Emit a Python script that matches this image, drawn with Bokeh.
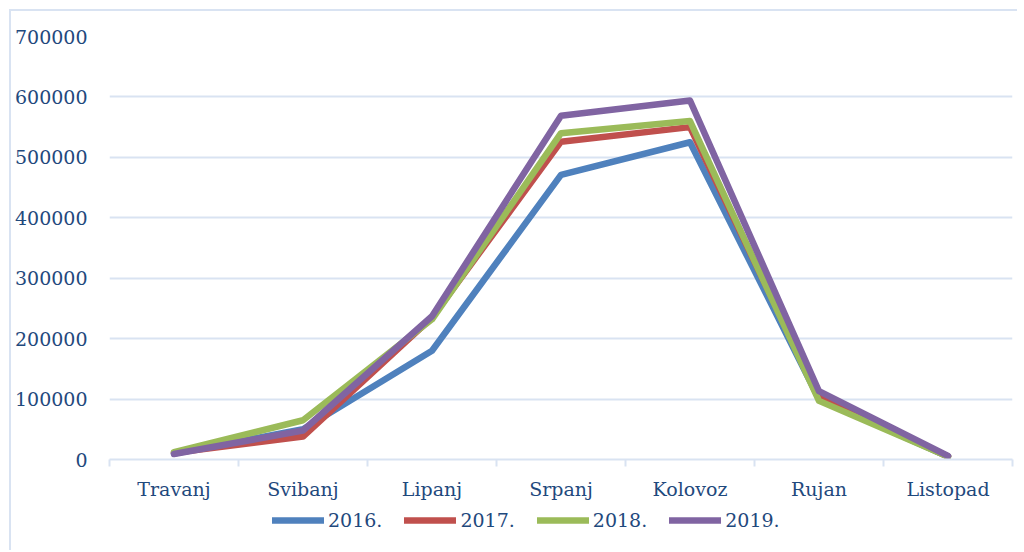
from bokeh.plotting import figure
from bokeh.layouts import column
from bokeh.models import FixedTicker, Range1d, Legend, LegendItem, ColumnDataSource
from bokeh.embed import file_html
from bokeh.resources import INLINE

months = ["Travanj", "Svibanj", "Lipanj", "Srpanj", "Kolovoz", "Rujan", "Listopad"]
y2016 = [10000, 50000, 180000, 471000, 525000, 100000, 5000]
y2017 = [11000, 38000, 235000, 526000, 550000, 105000, 5000]
y2018 = [12000, 65000, 232000, 540000, 560000, 97000, 5000]
y2019 = [9000, 48000, 237000, 569000, 594000, 113000, 6000]
series = [("2016.", y2016, "#4F81BD"), ("2017.", y2017, "#C0504D"),
          ("2018.", y2018, "#9BBB59"), ("2019.", y2019, "#8064A2")]
y_ticks = [0, 100000, 200000, 300000, 400000, 500000, 600000, 700000]

FONT = "DejaVu Serif"
TXT = "#1F497D"
GRID = "#D9E3F2"
LW = 6.5

xs = [i + 0.5 for i in range(len(months))]

p = figure(width=1006, height=493, output_backend="svg", toolbar_location=None,
           x_range=Range1d(0, len(months)), y_range=Range1d(0, 700000),
           min_border_left=98, min_border_right=5, min_border_top=25, min_border_bottom=45)
p.outline_line_color = None
p.background_fill_color = "white"

for name, vals, col in series:
    src = ColumnDataSource(dict(x=xs, y=vals))
    p.line("x", "y", source=src, line_color=col, line_width=LW,
           line_join="round", line_cap="round")

# y axis
p.yaxis.ticker = FixedTicker(ticks=y_ticks)
p.yaxis.axis_line_color = None
p.yaxis.major_tick_line_color = None
p.yaxis.major_tick_out = 0
p.yaxis.major_tick_in = 0
p.yaxis.minor_tick_line_color = None
p.yaxis.minor_tick_out = 0
p.yaxis.minor_tick_in = 0
p.yaxis.major_label_standoff = 22
p.yaxis.major_label_text_font = FONT
p.yaxis.major_label_text_font_size = "19px"
p.yaxis.major_label_text_color = TXT
p.yaxis.formatter.use_scientific = False

# x axis
p.xaxis.ticker = FixedTicker(ticks=xs, minor_ticks=list(range(len(months) + 1)))
p.xaxis.major_label_overrides = {x: m for x, m in zip(xs, months)}
p.xaxis.axis_line_color = GRID
p.xaxis.axis_line_width = 2
p.xaxis.major_tick_line_color = None
p.xaxis.major_tick_out = 0
p.xaxis.minor_tick_line_color = GRID
p.xaxis.minor_tick_line_width = 2
p.xaxis.minor_tick_out = 7
p.xaxis.minor_tick_in = 0
p.xaxis.major_label_standoff = 11
p.xaxis.major_label_text_font = FONT
p.xaxis.major_label_text_font_size = "19px"
p.xaxis.major_label_text_color = TXT

p.xgrid.grid_line_color = None
p.ygrid.ticker = FixedTicker(ticks=y_ticks)
p.ygrid.grid_line_color = GRID
p.ygrid.grid_line_width = 2

# legend strip (frame is aligned with the main plot's frame by the column)
q = figure(width=1006, height=46, output_backend="svg", toolbar_location=None,
           x_range=Range1d(0, 1), y_range=Range1d(0, 1),
           min_border=0)
q.axis.visible = False
q.grid.visible = False
q.outline_line_color = None
items = []
for name, vals, col in series:
    r = q.line(x=[-5, -4], y=[-5, -5], line_color=col, line_width=LW, line_cap="round")
    items.append(LegendItem(label=name, renderers=[r]))
legend = Legend(items=items, orientation="horizontal", location=(163, 19),
                border_line_color=None, background_fill_alpha=0,
                label_text_font=FONT, label_text_font_size="19px", label_text_color=TXT,
                glyph_width=52, glyph_height=20, label_standoff=4, spacing=22,
                padding=0, margin=0)
q.add_layout(legend, "center")

layout = column(p, q, spacing=0)
layout.styles = {"border-left": "2px solid " + GRID, "border-top": "2px solid " + GRID,
                 "margin-left": "9px", "margin-top": "9px"}

open("out.html", "w").write(file_html(layout, INLINE))
